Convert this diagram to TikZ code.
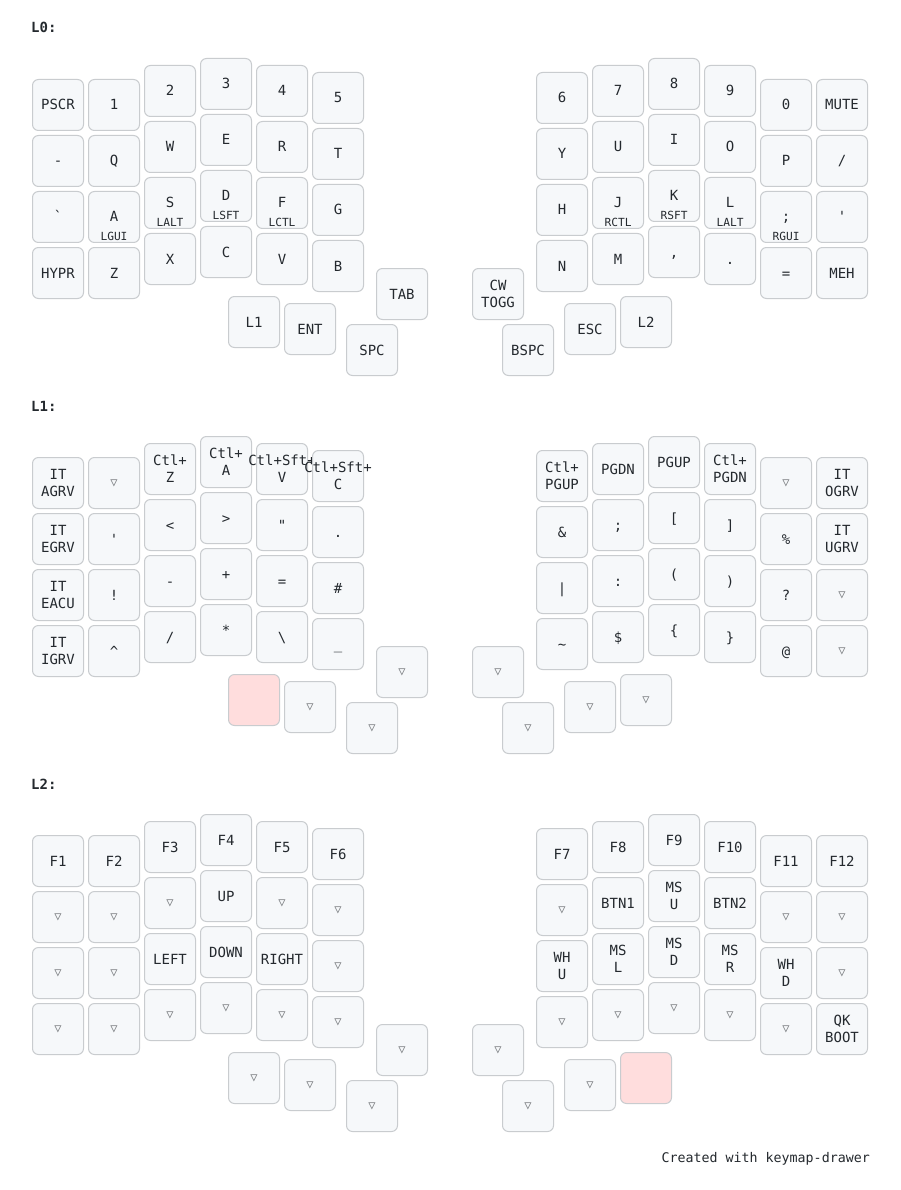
\documentclass[tikz,border=0pt]{standalone}
\usepackage{fontspec}
\setmonofont{DejaVu Sans Mono}
\definecolor{keyfill}{HTML}{F6F8FA}
\definecolor{keyline}{HTML}{C9CCCF}
\definecolor{heldfill}{HTML}{FFDDDD}
\definecolor{txt}{HTML}{24292E}
\definecolor{transc}{HTML}{7B7E81}
\tikzset{
 keybox/.style={draw=keyline, fill=keyfill, line width=1pt, rounded corners=6pt, minimum width=51pt, minimum height=51pt, inner sep=0pt, outer sep=0pt},
 heldbox/.style={keybox, fill=heldfill},
 tap/.style={anchor=base, inner sep=0pt, font=\ttfamily\fontsize{14}{16}\selectfont, text=txt, yshift=-5pt},
 hold/.style={anchor=base, inner sep=0pt, font=\ttfamily\fontsize{11.2}{13}\selectfont, text=txt, yshift=-23.5pt},
 trans/.style={inner sep=0pt, font=\ttfamily\fontsize{12}{13}\selectfont, text=transc},
 layerlabel/.style={anchor=base west, inner sep=0pt, font=\ttfamily\bfseries\fontsize{14}{16}\selectfont, text=txt},
 footer/.style={anchor=base east, inner sep=0pt, font=\ttfamily\fontsize{13.3}{15}\selectfont, text=txt}
}
\newcommand{\KeyOne}[4]{\node[keybox] (#1) at (#2,#3) {}; \node[tap] at (#1.center) {#4};}
\newcommand{\KeyTwo}[5]{\node[keybox] (#1) at (#2,#3) {}; \node[tap,yshift=8.4pt] at (#1.center) {#4}; \node[tap,yshift=-8.4pt] at (#1.center) {#5};}
\newcommand{\KeyHold}[5]{\node[keybox] (#1) at (#2,#3) {}; \node[tap] at (#1.center) {#4}; \node[hold] at (#1.center) {#5};}
\newcommand{\KeyTrans}[3]{\node[keybox] (#1) at (#2,#3) {}; \node[trans] at (#1.center) {▽};}
\newcommand{\KeyHeld}[3]{\node[heldbox] (#1) at (#2,#3) {};}
\begin{document}
\begin{tikzpicture}[x=1pt,y=-1pt]
\fill[white] (0,0) rectangle (900,1190);
\useasboundingbox (0,0) rectangle (900,1190);
% ---------------- L0
\begin{scope}
\node[layerlabel] (lab0) at (31,33) {L0:};
\KeyOne{a00}{58}{105}{PSCR}
\KeyOne{a01}{58}{161}{-}
\KeyOne{a02}{58}{217}{`}
\KeyOne{a03}{58}{273}{HYPR}
\KeyOne{a10}{114}{105}{1}
\KeyOne{a11}{114}{161}{Q}
\KeyHold{a12}{114}{217}{A}{LGUI}
\KeyOne{a13}{114}{273}{Z}
\KeyOne{a20}{170}{91}{2}
\KeyOne{a21}{170}{147}{W}
\KeyHold{a22}{170}{203}{S}{LALT}
\KeyOne{a23}{170}{259}{X}
\KeyOne{a30}{226}{84}{3}
\KeyOne{a31}{226}{140}{E}
\KeyHold{a32}{226}{196}{D}{LSFT}
\KeyOne{a33}{226}{252}{C}
\KeyOne{a40}{282}{91}{4}
\KeyOne{a41}{282}{147}{R}
\KeyHold{a42}{282}{203}{F}{LCTL}
\KeyOne{a43}{282}{259}{V}
\KeyOne{a50}{338}{98}{5}
\KeyOne{a51}{338}{154}{T}
\KeyOne{a52}{338}{210}{G}
\KeyOne{a53}{338}{266}{B}
\KeyOne{at1}{254}{322}{L1}
\KeyOne{at2}{310}{329}{ENT}
\KeyOne{at3}{372}{350}{SPC}
\KeyOne{at4}{402}{294}{TAB}
\KeyOne{a60}{562}{98}{6}
\KeyOne{a61}{562}{154}{Y}
\KeyOne{a62}{562}{210}{H}
\KeyOne{a63}{562}{266}{N}
\KeyOne{a70}{618}{91}{7}
\KeyOne{a71}{618}{147}{U}
\KeyHold{a72}{618}{203}{J}{RCTL}
\KeyOne{a73}{618}{259}{M}
\KeyOne{a80}{674}{84}{8}
\KeyOne{a81}{674}{140}{I}
\KeyHold{a82}{674}{196}{K}{RSFT}
\KeyOne{a83}{674}{252}{,}
\KeyOne{a90}{730}{91}{9}
\KeyOne{a91}{730}{147}{O}
\KeyHold{a92}{730}{203}{L}{LALT}
\KeyOne{a93}{730}{259}{.}
\KeyOne{ab0}{786}{105}{0}
\KeyOne{ab1}{786}{161}{P}
\KeyHold{ab2}{786}{217}{;}{RGUI}
\KeyOne{ab3}{786}{273}{=}
\KeyOne{ac0}{842}{105}{MUTE}
\KeyOne{ac1}{842}{161}{/}
\KeyOne{ac2}{842}{217}{'}
\KeyOne{ac3}{842}{273}{MEH}
\KeyTwo{ar1}{498}{294}{CW}{TOGG}
\KeyOne{ar2}{528}{350}{BSPC}
\KeyOne{ar3}{590}{329}{ESC}
\KeyOne{ar4}{646}{322}{L2}
\end{scope}
% ---------------- L1
\begin{scope}[yshift=-378pt]
\node[layerlabel] (lab1) at (31,33) {L1:};
\KeyTwo{b00}{58}{105}{IT}{AGRV}
\KeyTwo{b01}{58}{161}{IT}{EGRV}
\KeyTwo{b02}{58}{217}{IT}{EACU}
\KeyTwo{b03}{58}{273}{IT}{IGRV}
\KeyTrans{b10}{114}{105}
\KeyOne{b11}{114}{161}{'}
\KeyOne{b12}{114}{217}{!}
\KeyOne{b13}{114}{273}{\textasciicircum}
\KeyTwo{b20}{170}{91}{Ctl+}{Z}
\KeyOne{b21}{170}{147}{<}
\KeyOne{b22}{170}{203}{-}
\KeyOne{b23}{170}{259}{/}
\KeyTwo{b30}{226}{84}{Ctl+}{A}
\KeyOne{b31}{226}{140}{>}
\KeyOne{b32}{226}{196}{+}
\KeyOne{b33}{226}{252}{*}
\KeyTwo{b40}{282}{91}{Ctl+Sft+}{V}
\KeyOne{b41}{282}{147}{"}
\KeyOne{b42}{282}{203}{=}
\KeyOne{b43}{282}{259}{\textbackslash}
\KeyTwo{b50}{338}{98}{Ctl+Sft+}{C}
\KeyOne{b51}{338}{154}{.}
\KeyOne{b52}{338}{210}{\#}
\KeyOne{b53}{338}{266}{\_}
\KeyHeld{bt1}{254}{322}
\KeyTrans{bt2}{310}{329}
\KeyTrans{bt3}{372}{350}
\KeyTrans{bt4}{402}{294}
\KeyTwo{b60}{562}{98}{Ctl+}{PGUP}
\KeyOne{b61}{562}{154}{\&}
\KeyOne{b62}{562}{210}{|}
\KeyOne{b63}{562}{266}{\textasciitilde}
\KeyOne{b70}{618}{91}{PGDN}
\KeyOne{b71}{618}{147}{;}
\KeyOne{b72}{618}{203}{:}
\KeyOne{b73}{618}{259}{\$}
\KeyOne{b80}{674}{84}{PGUP}
\KeyOne{b81}{674}{140}{[}
\KeyOne{b82}{674}{196}{(}
\KeyOne{b83}{674}{252}{\{}
\KeyTwo{b90}{730}{91}{Ctl+}{PGDN}
\KeyOne{b91}{730}{147}{]}
\KeyOne{b92}{730}{203}{)}
\KeyOne{b93}{730}{259}{\}}
\KeyTrans{bb0}{786}{105}
\KeyOne{bb1}{786}{161}{\%}
\KeyOne{bb2}{786}{217}{?}
\KeyOne{bb3}{786}{273}{@}
\KeyTwo{bc0}{842}{105}{IT}{OGRV}
\KeyTwo{bc1}{842}{161}{IT}{UGRV}
\KeyTrans{bc2}{842}{217}
\KeyTrans{bc3}{842}{273}
\KeyTrans{br1}{498}{294}
\KeyTrans{br2}{528}{350}
\KeyTrans{br3}{590}{329}
\KeyTrans{br4}{646}{322}
\end{scope}
% ---------------- L2
\begin{scope}[yshift=-756pt]
\node[layerlabel] (lab2) at (31,33) {L2:};
\KeyOne{c00}{58}{105}{F1}
\KeyTrans{c01}{58}{161}
\KeyTrans{c02}{58}{217}
\KeyTrans{c03}{58}{273}
\KeyOne{c10}{114}{105}{F2}
\KeyTrans{c11}{114}{161}
\KeyTrans{c12}{114}{217}
\KeyTrans{c13}{114}{273}
\KeyOne{c20}{170}{91}{F3}
\KeyTrans{c21}{170}{147}
\KeyOne{c22}{170}{203}{LEFT}
\KeyTrans{c23}{170}{259}
\KeyOne{c30}{226}{84}{F4}
\KeyOne{c31}{226}{140}{UP}
\KeyOne{c32}{226}{196}{DOWN}
\KeyTrans{c33}{226}{252}
\KeyOne{c40}{282}{91}{F5}
\KeyTrans{c41}{282}{147}
\KeyOne{c42}{282}{203}{RIGHT}
\KeyTrans{c43}{282}{259}
\KeyOne{c50}{338}{98}{F6}
\KeyTrans{c51}{338}{154}
\KeyTrans{c52}{338}{210}
\KeyTrans{c53}{338}{266}
\KeyTrans{ct1}{254}{322}
\KeyTrans{ct2}{310}{329}
\KeyTrans{ct3}{372}{350}
\KeyTrans{ct4}{402}{294}
\KeyOne{c60}{562}{98}{F7}
\KeyTrans{c61}{562}{154}
\KeyTwo{c62}{562}{210}{WH}{U}
\KeyTrans{c63}{562}{266}
\KeyOne{c70}{618}{91}{F8}
\KeyOne{c71}{618}{147}{BTN1}
\KeyTwo{c72}{618}{203}{MS}{L}
\KeyTrans{c73}{618}{259}
\KeyOne{c80}{674}{84}{F9}
\KeyTwo{c81}{674}{140}{MS}{U}
\KeyTwo{c82}{674}{196}{MS}{D}
\KeyTrans{c83}{674}{252}
\KeyOne{c90}{730}{91}{F10}
\KeyOne{c91}{730}{147}{BTN2}
\KeyTwo{c92}{730}{203}{MS}{R}
\KeyTrans{c93}{730}{259}
\KeyOne{cb0}{786}{105}{F11}
\KeyTrans{cb1}{786}{161}
\KeyTwo{cb2}{786}{217}{WH}{D}
\KeyTrans{cb3}{786}{273}
\KeyOne{cc0}{842}{105}{F12}
\KeyTrans{cc1}{842}{161}
\KeyTrans{cc2}{842}{217}
\KeyTwo{cc3}{842}{273}{QK}{BOOT}
\KeyTrans{cr1}{498}{294}
\KeyTrans{cr2}{528}{350}
\KeyTrans{cr3}{590}{329}
\KeyHeld{cr4}{646}{322}
\end{scope}
\node[footer] (foot) at (870,1162) {Created with keymap-drawer};
\end{tikzpicture}
\end{document}
